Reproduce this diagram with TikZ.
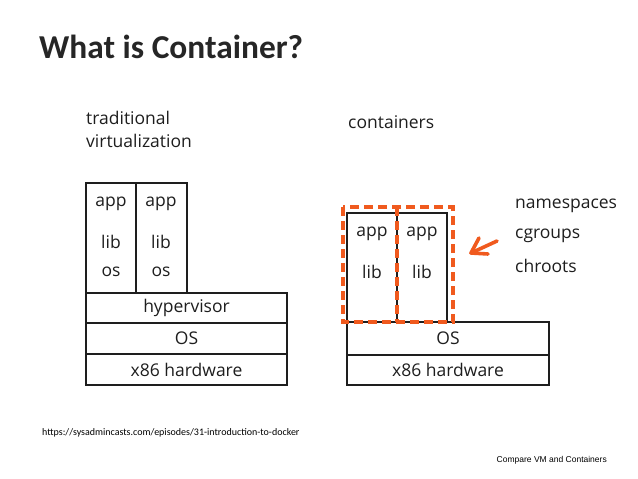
\documentclass[tikz,border=0pt]{standalone}
\usepackage{fontspec}
\setmainfont{Carlito}
\newfontfamily\handfont{Open Sans}
\newfontfamily\footfont{Liberation Sans}
\usetikzlibrary{arrows.meta}
\definecolor{titlegray}{HTML}{262626}
\definecolor{dockorange}{HTML}{F05A1E}
\definecolor{inkcol}{HTML}{1E1E1E}
\begin{document}
\begin{tikzpicture}[x=1pt,y=-1pt,
  layerbox/.style={draw=inkcol,line width=1.4pt,inner sep=0pt,minimum width=#1},
  hand/.style={font=\handfont\fontsize{17.5}{20}\selectfont,text=inkcol,inner sep=0pt},
  footnote/.style={font=\footfont\fontsize{8.5}{10}\selectfont,text=black,inner sep=0pt},
  orangedash/.style={draw=dockorange,line width=3.6pt,dash pattern=on 9pt off 5pt}
]
\useasboundingbox[fill=white] (0,0) rectangle (638,479);

% title
\node[anchor=west,font=\bfseries\fontsize{33.4}{36}\selectfont,text=titlegray,inner sep=0pt] (title) at (39,47) {What is Container?};

% ---------- traditional virtualization ----------
\node[hand,anchor=west] (tradA) at (86,118) {traditional};
\node[hand,anchor=west] (tradB) at (86,141) {virtualization};

\node[layerbox=50pt,minimum height=110pt] (vmA) at (111,238) {};
\node[layerbox=51pt,minimum height=110pt] (vmB) at (161.5,238) {};
\node[layerbox=201pt,minimum height=30pt] (hyp) at (186.5,308) {};
\node[layerbox=201pt,minimum height=31pt] (hostos) at (186.5,338.5) {};
\node[layerbox=201pt,minimum height=31pt] (hwA) at (186.5,369.5) {};

\node[hand] (appA1) at (111,204) {app};
\node[hand] (libA1) at (111,242) {lib};
\node[hand] (osA1) at (111,272) {os};
\node[hand] (appA2) at (161,204) {app};
\node[hand] (libA2) at (161,242) {lib};
\node[hand] (osA2) at (161,272) {os};
\node[hand] (hypT) at (hyp.center) {hypervisor};
\node[hand] (osT) at (hostos.center) {OS};
\node[hand] (hwT) at (hwA.center) {x86 hardware};

% ---------- containers ----------
\node[hand,anchor=west] (contT) at (348,122) {containers};

\node[layerbox=50pt,minimum height=109pt] (ctA) at (372,267.5) {};
\node[layerbox=50pt,minimum height=109pt] (ctB) at (422,267.5) {};
\node[layerbox=202pt,minimum height=33pt] (ctos) at (448,338.5) {};
\node[layerbox=202pt,minimum height=30pt] (hwB) at (448,370) {};

\node[hand] (appB1) at (372,234) {app};
\node[hand] (libB1) at (372,272) {lib};
\node[hand] (appB2) at (422,234) {app};
\node[hand] (libB2) at (422,272) {lib};
\node[hand] (ctosT) at (ctos.center) {OS};
\node[hand] (hwBT) at (hwB.center) {x86 hardware};

% orange dashed isolation frame
\coordinate (fTL) at (343,207);
\coordinate (fBR) at (453,322);
\coordinate (fMT) at (397,207);
\coordinate (fMB) at (397,322);
\draw[orangedash] (fTL) rectangle (fBR);
\draw[orangedash] (fMT) -- (fMB);

% arrow
\coordinate (arS) at (497,241);
\coordinate (arT) at (471,253);
\coordinate (arH1) at (479,238);
\coordinate (arH2) at (488,254);
\draw[dockorange,line width=3.6pt,line cap=round,line join=round] (arS) -- (arT);
\draw[dockorange,line width=3.6pt,line cap=round,line join=round] (arH1) -- (arT) -- (arH2);

\node[hand,anchor=west] (ns) at (515,206) {namespaces};
\node[hand,anchor=west] (cg) at (515,236) {cgroups};
\node[hand,anchor=west] (chr) at (515,266) {chroots};

% footer
\node[anchor=west,font=\fontsize{10}{12}\selectfont,text=black,inner sep=0pt] (src) at (42,433) {https://sysadmincasts.com/episodes/31-introduction-to-docker};
\node[footnote,anchor=east] (cap) at (607,460) {Compare VM and Containers};
\end{tikzpicture}
\end{document}
